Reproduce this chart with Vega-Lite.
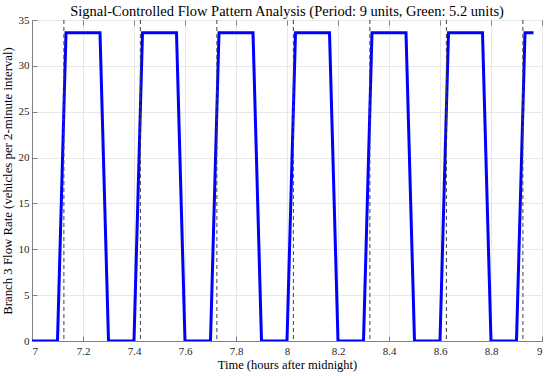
{
  "$schema": "https://vega.github.io/schema/vega-lite/v6.json",
  "width": 510,
  "height": 321,
  "autosize": "none",
  "padding": {"left": 32, "top": 20, "right": 8, "bottom": 35},
  "background": "white",
  "title": {
    "text": "Signal-Controlled Flow Pattern Analysis (Period: 9 units, Green: 5.2 units)",
    "font": "Liberation Serif",
    "fontSize": 14.5,
    "fontWeight": "normal",
    "color": "#000000",
    "anchor": "middle",
    "offset": -5
  },
  "config": {
    "view": {"stroke": "#808080", "strokeWidth": 1},
    "axis": {
      "labelFont": "Liberation Serif",
      "titleFont": "Liberation Serif",
      "labelFontSize": 11,
      "titleFontSize": 12.5,
      "titleFontWeight": "normal",
      "labelColor": "#262626",
      "titleColor": "#000000",
      "domainColor": "#808080",
      "tickColor": "#808080",
      "gridColor": "#e8e8e8",
      "gridOpacity": 1
    }
  },
  "resolve": {"axis": {"x": "independent"}},
  "datasets": {
    "flow": [
      {"t": 7, "v": 0}, {"t": 7.0333, "v": 0}, {"t": 7.0667, "v": 0}, {"t": 7.1, "v": 0},
      {"t": 7.1333, "v": 33.6}, {"t": 7.1667, "v": 33.6}, {"t": 7.2, "v": 33.6}, {"t": 7.2333, "v": 33.6}, {"t": 7.2667, "v": 33.6},
      {"t": 7.3, "v": 0}, {"t": 7.3333, "v": 0}, {"t": 7.3667, "v": 0}, {"t": 7.4, "v": 0},
      {"t": 7.4333, "v": 33.6}, {"t": 7.4667, "v": 33.6}, {"t": 7.5, "v": 33.6}, {"t": 7.5333, "v": 33.6}, {"t": 7.5667, "v": 33.6},
      {"t": 7.6, "v": 0}, {"t": 7.6333, "v": 0}, {"t": 7.6667, "v": 0}, {"t": 7.7, "v": 0},
      {"t": 7.7333, "v": 33.6}, {"t": 7.7667, "v": 33.6}, {"t": 7.8, "v": 33.6}, {"t": 7.8333, "v": 33.6}, {"t": 7.8667, "v": 33.6},
      {"t": 7.9, "v": 0}, {"t": 7.9333, "v": 0}, {"t": 7.9667, "v": 0}, {"t": 8, "v": 0},
      {"t": 8.0333, "v": 33.6}, {"t": 8.0667, "v": 33.6}, {"t": 8.1, "v": 33.6}, {"t": 8.1333, "v": 33.6}, {"t": 8.1667, "v": 33.6},
      {"t": 8.2, "v": 0}, {"t": 8.2333, "v": 0}, {"t": 8.2667, "v": 0}, {"t": 8.3, "v": 0},
      {"t": 8.3333, "v": 33.6}, {"t": 8.3667, "v": 33.6}, {"t": 8.4, "v": 33.6}, {"t": 8.4333, "v": 33.6}, {"t": 8.4667, "v": 33.6},
      {"t": 8.5, "v": 0}, {"t": 8.5333, "v": 0}, {"t": 8.5667, "v": 0}, {"t": 8.6, "v": 0},
      {"t": 8.6333, "v": 33.6}, {"t": 8.6667, "v": 33.6}, {"t": 8.7, "v": 33.6}, {"t": 8.7333, "v": 33.6}, {"t": 8.7667, "v": 33.6},
      {"t": 8.8, "v": 0}, {"t": 8.8333, "v": 0}, {"t": 8.8667, "v": 0}, {"t": 8.9, "v": 0},
      {"t": 8.9333, "v": 33.6}, {"t": 8.9667, "v": 33.6}
    ],
    "signals": [
      {"t": 7.125}, {"t": 7.425}, {"t": 7.725}, {"t": 8.025}, {"t": 8.325}, {"t": 8.625}, {"t": 8.925}
    ]
  },
  "layer": [
    {
      "data": {"name": "flow"},
      "mark": {"type": "line", "color": "#0000ff", "strokeWidth": 3, "clip": true},
      "encoding": {
        "x": {
          "field": "t", "type": "quantitative",
          "scale": {"domain": [7, 9], "nice": false, "zero": false},
          "axis": {
            "title": "Time (hours after midnight)",
            "values": [7, 7.2, 7.4, 7.6, 7.8, 8, 8.2, 8.4, 8.6, 8.8, 9],
            "format": "~g",
            "tickSize": -5,
            "labelPadding": 9,
            "titlePadding": 2
          }
        },
        "y": {
          "field": "v", "type": "quantitative",
          "scale": {"domain": [0, 35], "nice": false},
          "axis": {
            "title": "Branch 3 Flow Rate (vehicles per 2-minute interval)",
            "titleFontSize": 12.8,
            "values": [0, 5, 10, 15, 20, 25, 30, 35],
            "tickSize": -5,
            "labelPadding": 8,
            "titlePadding": 4
          }
        }
      }
    },
    {
      "data": {"name": "signals"},
      "mark": {"type": "rule", "color": "#404040", "strokeWidth": 1, "strokeDash": [4, 3]},
      "encoding": {
        "x": {
          "field": "t", "type": "quantitative",
          "axis": {
            "orient": "top", "labels": false, "title": null, "grid": false,
            "values": [7, 7.2, 7.4, 7.6, 7.8, 8, 8.2, 8.4, 8.6, 8.8, 9],
            "tickSize": -5, "domain": false
          }
        }
      }
    }
  ]
}
